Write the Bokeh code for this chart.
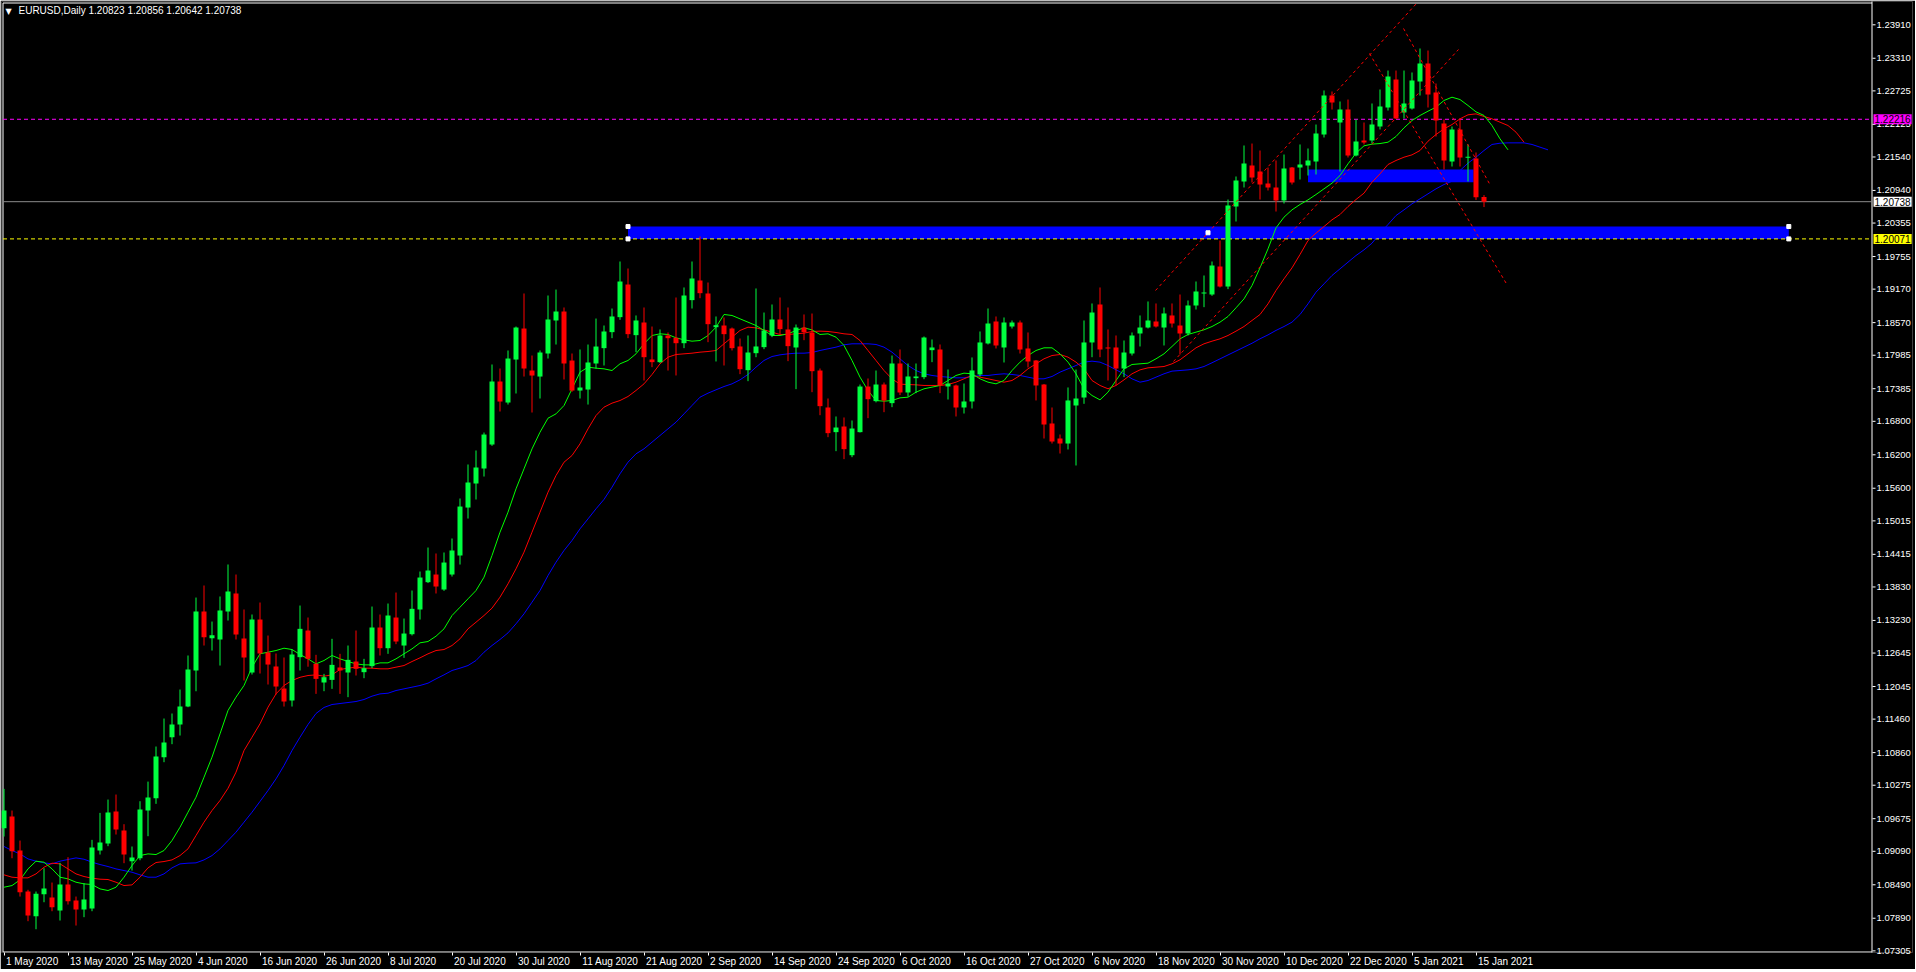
from bokeh.plotting import figure
from bokeh.models import (FixedTicker, Label, Range1d, CustomJSTickFormatter,
                          PrintfTickFormatter)
from bokeh.embed import file_html
from bokeh.resources import INLINE

# ---------------- data ----------------
title_text = "EURUSD,Daily  1.20823 1.20856 1.20642 1.20738"

opens = [1.09504,1.09714,1.09104,1.08369,1.07926,1.08321,1.08261,1.08028,1.08494,1.08207,
         1.08046,1.08064,1.09104,1.09229,1.09803,1.09462,1.08913,1.08966,1.09821,1.10043,
         1.10778,1.11136,1.11364,1.11686,1.12332,1.13390,1.12912,1.12888,1.13390,1.13712,
         1.12906,1.12296,1.13246,1.12655,1.12404,1.12009,1.11794,1.12571,1.13049,1.12451,
         1.12117,1.12164,1.12386,1.12296,1.12493,1.12302,1.12410,1.13103,1.12732,1.13282,
         1.12780,1.12983,1.13426,1.13916,1.14053,1.13784,1.14053,1.14394,1.15254,1.15685,
         1.15954,1.16384,1.17514,1.17137,1.17908,1.18464,1.17711,1.17603,1.18016,1.18608,
         1.18769,1.17890,1.17352,1.17370,1.17837,1.18112,1.18399,1.18668,1.19253,1.18345,
         1.18572,1.17909,1.17861,1.18339,1.18297,1.18201,1.18973,1.19325,1.19092,1.18488,
         1.18518,1.18464,1.18142,1.17717,1.18022,1.18130,1.18339,1.18626,1.18447,1.18124,
         1.18482,1.18393,1.17711,1.17048,1.16606,1.16707,1.16193,1.16606,1.17424,1.17162,
         1.17460,1.17126,1.17837,1.17317,1.17574,1.17592,1.18076,1.18088,1.17425,1.17443,
         1.17048,1.17156,1.17640,1.18196,1.18590,1.18124,1.18500,1.18572,1.18106,1.17891,
         1.17460,1.16761,1.16492,1.16402,1.17084,1.17227,1.18214,1.18895,1.18124,1.18124,
         1.17747,1.18016,1.18375,1.18482,1.18590,1.18482,1.18698,1.18518,1.18375,1.18877,
         1.19092,1.19074,1.19576,1.19217,1.20652,1.21100,1.21387,1.21279,1.21064,1.20993,
         1.20759,1.21351,1.21351,1.21387,1.21459,1.21943,1.22642,1.22158,1.22391,1.21566,
         1.21835,1.21835,1.22086,1.22427,1.22929,1.22337,1.22409,1.22893,1.23216,1.22696,
         1.22140,1.21459,1.22033,1.21531,1.21513,1.20823]
highs = [1.10210,1.09821,1.09283,1.08400,1.08369,1.08787,1.08530,1.08883,1.08984,1.08279,
         1.08518,1.09295,1.09779,1.10018,1.10108,1.09576,1.09176,1.09988,1.10340,1.10969,
         1.11471,1.11561,1.11991,1.12601,1.13640,1.13856,1.13210,1.13659,1.14233,1.14053,
         1.13426,1.13336,1.13551,1.12959,1.12637,1.12565,1.12708,1.13497,1.13282,1.12613,
         1.12272,1.12900,1.12631,1.12780,1.13049,1.12541,1.13479,1.13336,1.13533,1.13730,
         1.13264,1.13766,1.14107,1.14537,1.14430,1.14448,1.14699,1.15416,1.16026,1.16277,
         1.16599,1.17819,1.17747,1.18070,1.18500,1.19092,1.17980,1.18070,1.19056,1.19163,
         1.18841,1.18016,1.18088,1.18177,1.18643,1.18518,1.18823,1.19666,1.19540,1.18698,
         1.18841,1.18500,1.18447,1.18393,1.19020,1.19200,1.19666,1.20114,1.19289,1.18680,
         1.18662,1.18482,1.18285,1.18339,1.19182,1.18751,1.18895,1.19020,1.18841,1.18536,
         1.18716,1.18733,1.17747,1.17209,1.16887,1.16869,1.16815,1.17460,1.17568,1.17711,
         1.17496,1.17980,1.18088,1.17837,1.17837,1.18321,1.18267,1.18178,1.17729,1.17460,
         1.17478,1.17945,1.18411,1.18823,1.18680,1.18662,1.18608,1.18608,1.18393,1.17900,
         1.17470,1.17048,1.16564,1.17407,1.17729,1.18608,1.18913,1.19200,1.18447,1.18339,
         1.18249,1.18393,1.18698,1.18949,1.18913,1.18841,1.18913,1.19074,1.18967,1.19307,
         1.19415,1.19666,1.20042,1.20777,1.21190,1.21746,1.21781,1.21656,1.21351,1.21477,
         1.21584,1.21360,1.21764,1.21692,1.22122,1.22732,1.22714,1.22535,1.22570,1.22212,
         1.22158,1.22499,1.22750,1.23090,1.23090,1.23090,1.23055,1.23485,1.23449,1.22857,
         1.22212,1.22086,1.22230,1.21764,1.21620,1.20856]
lows = [1.09355,1.08966,1.08279,1.07837,1.07693,1.08177,1.08016,1.07849,1.08136,1.07759,
        1.07909,1.08016,1.09032,1.09182,1.09391,1.08877,1.08745,1.08930,1.09361,1.09941,
        1.10688,1.11011,1.11166,1.11674,1.11960,1.12780,1.12690,1.12421,1.13228,1.12888,
        1.12153,1.12260,1.12278,1.12081,1.11901,1.11686,1.11686,1.12332,1.12400,1.11913,
        1.11961,1.12003,1.11913,1.11854,1.12242,1.12194,1.12374,1.12601,1.12631,1.12804,
        1.12559,1.12960,1.13246,1.13900,1.13713,1.13760,1.14017,1.14232,1.15057,1.15398,
        1.15810,1.16360,1.16976,1.17101,1.17299,1.17603,1.16958,1.17209,1.17926,1.18177,
        1.17550,1.17330,1.17209,1.17101,1.17747,1.17801,1.18291,1.18620,1.18291,1.18040,
        1.17532,1.17771,1.17843,1.17711,1.17622,1.18112,1.18823,1.19008,1.18219,1.17873,
        1.17801,1.18070,1.17646,1.17520,1.17950,1.18094,1.18309,1.18363,1.17879,1.17377,
        1.18255,1.17323,1.16910,1.16516,1.16265,1.16122,1.16157,1.16600,1.16857,1.17140,
        1.16964,1.17054,1.17270,1.17245,1.17305,1.17556,1.17861,1.17305,1.17191,1.16887,
        1.16940,1.17030,1.17604,1.18178,1.18106,1.17855,1.18464,1.18016,1.17765,1.17174,
        1.16492,1.16402,1.16223,1.16295,1.16008,1.17114,1.17950,1.17950,1.17532,1.17443,
        1.17592,1.17980,1.18142,1.18465,1.18482,1.18160,1.18482,1.17998,1.18339,1.18805,
        1.18847,1.19050,1.19200,1.19170,1.20383,1.20993,1.21082,1.20777,1.20939,1.20562,
        1.20706,1.21046,1.21136,1.21208,1.21226,1.21889,1.22391,1.21279,1.21531,1.21550,
        1.21764,1.21781,1.22033,1.22373,1.22220,1.22230,1.22390,1.22642,1.22427,1.21907,
        1.21315,1.21369,1.21369,1.21100,1.20770,1.20642]
closes = [1.09821,1.09092,1.08357,1.07938,1.08327,1.08422,1.08088,1.08494,1.08195,1.08046,
          1.08225,1.09158,1.09247,1.09785,1.09480,1.09032,1.08978,1.09839,1.10054,1.10790,
          1.11041,1.11364,1.11686,1.12350,1.13390,1.12930,1.12965,1.13408,1.13748,1.12977,
          1.12565,1.13246,1.12637,1.12439,1.12045,1.11776,1.12619,1.13079,1.12541,1.12182,
          1.12212,1.12433,1.12332,1.12523,1.12362,1.12374,1.13103,1.12732,1.13318,1.12852,
          1.12995,1.13438,1.13999,1.14125,1.13838,1.14268,1.14484,1.15272,1.15703,1.15972,
          1.16563,1.17514,1.17155,1.17926,1.18482,1.17747,1.17621,1.18034,1.18626,1.18769,
          1.17837,1.17352,1.17406,1.17855,1.18141,1.18411,1.18680,1.19307,1.18363,1.18608,
          1.17950,1.17861,1.18339,1.18291,1.18201,1.19056,1.19361,1.19098,1.18542,1.18524,
          1.18363,1.18112,1.17735,1.18034,1.18142,1.18429,1.18626,1.18453,1.18148,1.18482,
          1.18399,1.17699,1.17072,1.16588,1.16689,1.16301,1.16671,1.17424,1.17197,1.17460,
          1.17173,1.17837,1.17317,1.17604,1.17604,1.18303,1.18124,1.17443,1.17478,1.17048,
          1.17156,1.17712,1.18214,1.18554,1.18160,1.18572,1.18572,1.18088,1.17873,1.17443,
          1.16743,1.16438,1.16402,1.17174,1.17209,1.18214,1.18751,1.18088,1.18112,1.17747,
          1.18034,1.18339,1.18482,1.18608,1.18500,1.18734,1.18554,1.18375,1.18877,1.19128,
          1.19110,1.19594,1.19217,1.20670,1.21118,1.21423,1.21172,1.21046,1.20993,1.20759,
          1.21333,1.21082,1.21405,1.21477,1.21961,1.22642,1.22517,1.22391,1.21566,1.21817,
          1.21799,1.22122,1.22445,1.22983,1.22230,1.22499,1.22911,1.23216,1.22660,1.22194,
          1.21477,1.22033,1.21531,1.21543,1.20820,1.20738]

# Alligator lines (index = bar position, incl. forward shift)
lips = [1.08446,1.08476,1.08578,1.08775,1.08913,1.08895,1.08775,1.08626,1.08596,1.08536,
        1.08506,1.08494,1.08416,1.08387,1.08446,1.08626,1.08835,1.09014,1.09044,1.09032,
        1.09104,1.09283,1.09522,1.09791,1.10060,1.10419,1.10778,1.11196,1.11615,1.11854,
        1.12063,1.12392,1.12631,1.12661,1.12690,1.12732,1.12708,1.12620,1.12541,1.12451,
        1.12511,1.12601,1.12541,1.12493,1.12451,1.12433,1.12433,1.12469,1.12469,1.12541,
        1.12631,1.12720,1.12828,1.12852,1.12947,1.13079,1.13318,1.13467,1.13617,1.13766,
        1.14005,1.14394,1.14812,1.15171,1.15589,1.15948,1.16306,1.16605,1.16856,1.16934,
        1.17083,1.17382,1.17681,1.17771,1.17753,1.17741,1.17711,1.17831,1.17891,1.18010,
        1.18190,1.18339,1.18369,1.18357,1.18297,1.18261,1.18237,1.18249,1.18339,1.18488,
        1.18716,1.18698,1.18638,1.18578,1.18518,1.18429,1.18339,1.18339,1.18369,1.18429,
        1.18476,1.18440,1.18357,1.18369,1.18309,1.18160,1.17891,1.17592,1.17353,1.17173,
        1.17161,1.17173,1.17221,1.17233,1.17323,1.17383,1.17413,1.17443,1.17532,1.17622,
        1.17664,1.17652,1.17562,1.17502,1.17472,1.17532,1.17711,1.17861,1.17980,1.18070,
        1.18118,1.18118,1.18010,1.17861,1.17652,1.17383,1.17263,1.17185,1.17323,1.17532,
        1.17741,1.17819,1.17831,1.17843,1.17921,1.18010,1.18142,1.18279,1.18357,1.18399,
        1.18441,1.18500,1.18578,1.18680,1.18835,1.18996,1.19235,1.19552,1.19893,1.20269,
        1.20461,1.20592,1.20688,1.20771,1.20867,1.20969,1.21070,1.21208,1.21417,1.21608,
        1.21740,1.21770,1.21781,1.21805,1.21907,1.22062,1.22194,1.22284,1.22361,1.22433,
        1.22553,1.22612,1.22570,1.22463,1.22349,1.22284,1.22104,1.21865,1.21668]
teeth = [1.08668,1.08626,1.08614,1.08614,1.08685,1.08805,1.08877,1.08865,1.08775,1.08685,
         1.08638,1.08608,1.08590,1.08584,1.08536,1.08476,1.08488,1.08626,1.08793,1.08889,
         1.08907,1.08936,1.09014,1.09134,1.09373,1.09612,1.09821,1.10001,1.10220,1.10509,
         1.10897,1.11136,1.11376,1.11674,1.11913,1.12063,1.12153,1.12210,1.12242,1.12254,
         1.12230,1.12254,1.12350,1.12374,1.12392,1.12374,1.12374,1.12362,1.12362,1.12392,
         1.12421,1.12493,1.12559,1.12631,1.12690,1.12708,1.12780,1.12900,1.13079,1.13198,
         1.13318,1.13450,1.13647,1.13886,1.14155,1.14454,1.14812,1.15171,1.15529,1.15828,
         1.16067,1.16187,1.16396,1.16665,1.16904,1.17054,1.17126,1.17173,1.17245,1.17353,
         1.17472,1.17640,1.17831,1.17950,1.17998,1.18010,1.18022,1.18040,1.18052,1.18070,
         1.18190,1.18309,1.18429,1.18488,1.18476,1.18440,1.18399,1.18357,1.18357,1.18369,
         1.18381,1.18411,1.18417,1.18411,1.18393,1.18369,1.18357,1.18249,1.18070,1.17891,
         1.17711,1.17562,1.17466,1.17460,1.17454,1.17443,1.17443,1.17443,1.17460,1.17502,
         1.17562,1.17622,1.17592,1.17562,1.17532,1.17502,1.17532,1.17622,1.17741,1.17831,
         1.17921,1.17980,1.17998,1.17951,1.17861,1.17741,1.17532,1.17443,1.17383,1.17443,
         1.17544,1.17652,1.17723,1.17759,1.17771,1.17783,1.17831,1.17903,1.18010,1.18118,
         1.18190,1.18237,1.18279,1.18339,1.18417,1.18500,1.18608,1.18715,1.18907,1.19146,
         1.19355,1.19552,1.19791,1.20042,1.20174,1.20293,1.20413,1.20508,1.20652,1.20777,
         1.20891,1.21088,1.21238,1.21405,1.21477,1.21536,1.21578,1.21656,1.21823,1.21943,
         1.22044,1.22122,1.22224,1.22296,1.22313,1.22266,1.22224,1.22164,1.22104,1.21985,
         1.21805]
jaw = [1.09176,1.09104,1.09044,1.08954,1.08913,1.08883,1.08865,1.08913,1.08943,1.08972,
       1.08948,1.08895,1.08853,1.08817,1.08775,1.08745,1.08715,1.08668,1.08626,1.08626,
       1.08685,1.08793,1.08865,1.08877,1.08883,1.08936,1.09014,1.09134,1.09283,1.09433,
       1.09612,1.09791,1.09985,1.10180,1.10389,1.10628,1.10897,1.11136,1.11364,1.11561,
       1.11669,1.11722,1.11740,1.11758,1.11776,1.11812,1.11872,1.11913,1.11925,1.11973,
       1.12003,1.12033,1.12063,1.12105,1.12182,1.12254,1.12332,1.12374,1.12421,1.12511,
       1.12660,1.12780,1.12888,1.13007,1.13169,1.13348,1.13557,1.13766,1.14035,1.14274,
       1.14484,1.14663,1.14872,1.15051,1.15231,1.15400,1.15619,1.15859,1.16068,1.16217,
       1.16307,1.16426,1.16546,1.16665,1.16785,1.16934,1.17084,1.17233,1.17305,1.17365,
       1.17424,1.17472,1.17544,1.17640,1.17771,1.17891,1.17962,1.17992,1.18010,1.18022,
       1.18022,1.18034,1.18070,1.18100,1.18130,1.18172,1.18190,1.18190,1.18190,1.18178,
       1.18130,1.18040,1.17920,1.17801,1.17711,1.17652,1.17622,1.17604,1.17592,1.17580,
       1.17580,1.17604,1.17622,1.17622,1.17640,1.17652,1.17640,1.17622,1.17592,1.17562,
       1.17562,1.17604,1.17682,1.17741,1.17801,1.17861,1.17879,1.17861,1.17801,1.17723,
       1.17652,1.17562,1.17502,1.17532,1.17592,1.17652,1.17700,1.17711,1.17723,1.17741,
       1.17783,1.17850,1.17920,1.17990,1.18060,1.18130,1.18200,1.18280,1.18350,1.18430,
       1.18500,1.18578,1.18715,1.18907,1.19116,1.19265,1.19415,1.19534,1.19654,1.19773,
       1.19875,1.19994,1.20174,1.20329,1.20490,1.20592,1.20700,1.20789,1.20879,1.20969,
       1.21046,1.21106,1.21297,1.21429,1.21536,1.21656,1.21764,1.21787,1.21793,1.21793,
       1.21793,1.21764,1.21716,1.21668]

date_labels = ["1 May 2020", "13 May 2020", "25 May 2020", "4 Jun 2020", "16 Jun 2020",
               "26 Jun 2020", "8 Jul 2020", "20 Jul 2020", "30 Jul 2020", "11 Aug 2020",
               "21 Aug 2020", "2 Sep 2020", "14 Sep 2020", "24 Sep 2020", "6 Oct 2020",
               "16 Oct 2020", "27 Oct 2020", "6 Nov 2020", "18 Nov 2020", "30 Nov 2020",
               "10 Dec 2020", "22 Dec 2020", "5 Jan 2021", "15 Jan 2021"]
date_label_bars = [0, 8, 16, 24, 32, 40, 48, 56, 64, 72, 80, 88, 96, 104, 112, 120,
                   128, 136, 144, 152, 160, 168, 176, 184]
price_ticks = [1.23910, 1.23310, 1.22725, 1.22125, 1.21540, 1.20940, 1.20355, 1.19755,
               1.19170, 1.18570, 1.17985, 1.17385, 1.16800, 1.16200, 1.15600, 1.15015,
               1.14415, 1.13830, 1.13230, 1.12645, 1.12045, 1.11460, 1.10860, 1.10275,
               1.09675, 1.09090, 1.08490, 1.07890, 1.07305]

level_magenta = 1.22216
level_bid = 1.20738
level_yellow = 1.20071

zone_left = [78.0, 163.0]
zone_right = [223.1, 183.7]
zone_top = [1.20293, 1.21315]
zone_bottom = [1.20071, 1.21088]

trend_x0 = [143.94, 146.19, 174.94, 170.69]
trend_y0 = [1.19146, 1.17873, 1.23844, 1.23395]
trend_x1 = [176.56, 181.81, 185.81, 187.94]
trend_y1 = [1.24292, 1.23467, 1.21028, 1.19235]

handle_x = [78.0, 78.0, 223.1, 223.1, 150.5]
handle_y = [1.20293, 1.20071, 1.20293, 1.20071, 1.20181]

# ---------------- layout calibration (page pixels) ----------------
FL, FT = 1, 1            # frame left / top on the page
FW, FH = 1911, 951       # frame: x 1..1912, y 1..952
AXIS_X = 1871.5          # price-axis line (page px)
BOTTOM_Y = 951.5         # time-axis line (page px)
BAR0 = 3.5               # page x of bar 0
BARW = 8.0               # px per bar
P_REF, Y_REF, PXU = 1.23910, 24.3, 5577.0

def price_at(page_y):
    return P_REF - (page_y - Y_REF) / PXU

def bar_at(page_x):
    return (page_x - BAR0) / BARW

x_start, x_end = bar_at(FL), bar_at(FL + FW)
y_start, y_end = price_at(FT + FH), price_at(FT)

GREEN_BAR = "#00FF40"
RED_BAR = "#FF0000"
WHITE = "#FFFFFF"
FONT = "Liberation Sans"

p = figure(frame_width=FW, frame_height=FH, output_backend="svg", toolbar_location=None,
           x_range=Range1d(x_start, x_end), y_range=Range1d(y_start, y_end),
           y_axis_location="right", min_border_left=FL, min_border_top=FT,
           min_border_right=3, min_border_bottom=17)
p.background_fill_color = "#000000"
p.border_fill_color = "#000000"
p.outline_line_color = None
p.grid.visible = False

# ---------------- chart frame (white box like the terminal) ----------------
fx0, fx1 = bar_at(2.5), bar_at(AXIS_X)
fy_top, fy_bot = price_at(2.5), price_at(BOTTOM_Y)
p.segment(x0=[fx0, fx0, fx1, fx0], y0=[fy_top, fy_top, price_at(0), fy_bot],
          x1=[fx1, fx0, fx1, fx1], y1=[fy_top, fy_bot, price_at(960), fy_bot],
          line_color=WHITE, line_width=1)
# price tick marks
p.segment(x0=[bar_at(1872)] * len(price_ticks), y0=price_ticks,
          x1=[bar_at(1875)] * len(price_ticks), y1=price_ticks,
          line_color=WHITE, line_width=1)

# ---------------- marks ----------------
bars = list(range(len(opens)))
cols = [GREEN_BAR if c >= o else RED_BAR for o, c in zip(opens, closes)]
MINH = 0.00018
btop = [max(o, c) for o, c in zip(opens, closes)]
bbot = [min(o, c) if abs(c - o) >= MINH else max(o, c) - MINH for o, c in zip(opens, closes)]

p.quad(left=zone_left, right=zone_right, top=zone_top, bottom=zone_bottom,
       fill_color="#0000FF", line_color=None)

# horizontal levels (stop at the price axis)
p.segment(x0=[fx0], y0=[level_magenta], x1=[fx1], y1=[level_magenta],
          line_color="#FF00FF", line_dash="4 3", line_width=1)
p.segment(x0=[fx0], y0=[level_bid], x1=[fx1], y1=[level_bid],
          line_color="#8C8C8C", line_width=1)
p.segment(x0=[fx0], y0=[level_yellow], x1=[fx1], y1=[level_yellow],
          line_color="#FFFF00", line_dash="4 3", line_width=1)

p.line(list(range(len(jaw))), jaw, line_color="#0000FF", line_width=1)
p.line(list(range(len(teeth))), teeth, line_color="#FF0000", line_width=1)
p.line(list(range(len(lips))), lips, line_color="#00FF00", line_width=1)

p.segment(x0=bars, y0=lows, x1=bars, y1=highs, line_color=cols, line_width=1)
p.vbar(x=bars, width=5 / BARW, top=btop, bottom=bbot, fill_color=cols, line_color=None)

p.segment(x0=trend_x0, y0=trend_y0, x1=trend_x1, y1=trend_y1, line_color="#FF0000",
          line_dash="3 3", line_width=1)
p.scatter(handle_x, handle_y, marker="square", size=4, fill_color=WHITE, line_color=WHITE)

# ---------------- axes ----------------
def text_w(s, fs=10.0):
    w = {"M": 0.833, "J": 0.5, "A": 0.667, "S": 0.667, "O": 0.778, "N": 0.722, "D": 0.722,
         " ": 0.278, "l": 0.222, "y": 0.5, "c": 0.5, "v": 0.5, "t": 0.278}
    return sum(w.get(ch, 0.556) for ch in s) * fs

label_centers = [b + (text_w(s) / 2 + 2) / BARW for b, s in zip(date_label_bars, date_labels)]

xa = p.xaxis[0]
xa.ticker = FixedTicker(ticks=label_centers, minor_ticks=date_label_bars)
xa.formatter = CustomJSTickFormatter(args=dict(pos=label_centers, labels=date_labels), code="""
    let best = 0, bd = 1e9;
    for (let k = 0; k < pos.length; k++) {
        const d = Math.abs(pos[k] - tick);
        if (d < bd) { bd = d; best = k; }
    }
    return labels[best];
""")
xa.major_tick_out = 0
xa.major_tick_in = 0
xa.minor_tick_out = 3
xa.minor_tick_in = 0
xa.minor_tick_line_color = WHITE
xa.axis_line_color = None
xa.major_label_text_color = WHITE
xa.major_label_text_font = FONT
xa.major_label_text_font_size = "10px"
xa.major_label_standoff = 0

ya = p.yaxis[0]
ya.ticker = FixedTicker(ticks=price_ticks, minor_ticks=[])
ya.formatter = PrintfTickFormatter(format="%.5f")
ya.major_tick_out = 0
ya.major_tick_in = 0
ya.minor_tick_out = 0
ya.minor_tick_in = 0
ya.major_tick_line_color = None
ya.axis_line_color = None
ya.major_label_text_color = WHITE
ya.major_label_text_font = FONT
ya.major_label_text_font_size = "9.5px"
ya.major_label_standoff = 1876 - (FL + FW)   # labels sit right of the drawn axis line

# ---------------- texts ----------------
def price_box(level, bg, fg):
    p.add_layout(Label(x=bar_at(1873), y=level, x_units="data", y_units="data",
                       text=f"{level:.5f}", text_font=FONT, text_font_size="10px",
                       text_color=fg, text_baseline="middle", text_align="left",
                       background_fill_color=bg, padding=1, level="overlay"))

price_box(level_magenta, "#FF00FF", "#000000")
price_box(level_bid, WHITE, "#000000")
price_box(level_yellow, "#FFFF00", "#000000")

p.add_layout(Label(x=4, x_units="screen", y=price_at(6), y_units="data", text="\u25BC",
                   text_font="DejaVu Sans", text_font_size="8px",
                   text_color=WHITE, text_baseline="top"))
p.add_layout(Label(x=17, x_units="screen", y=price_at(4), y_units="data",
                   text=title_text, text_font=FONT, text_font_size="10px",
                   text_color=WHITE, text_baseline="top"))

open("out.html", "w").write(file_html(p, INLINE))
